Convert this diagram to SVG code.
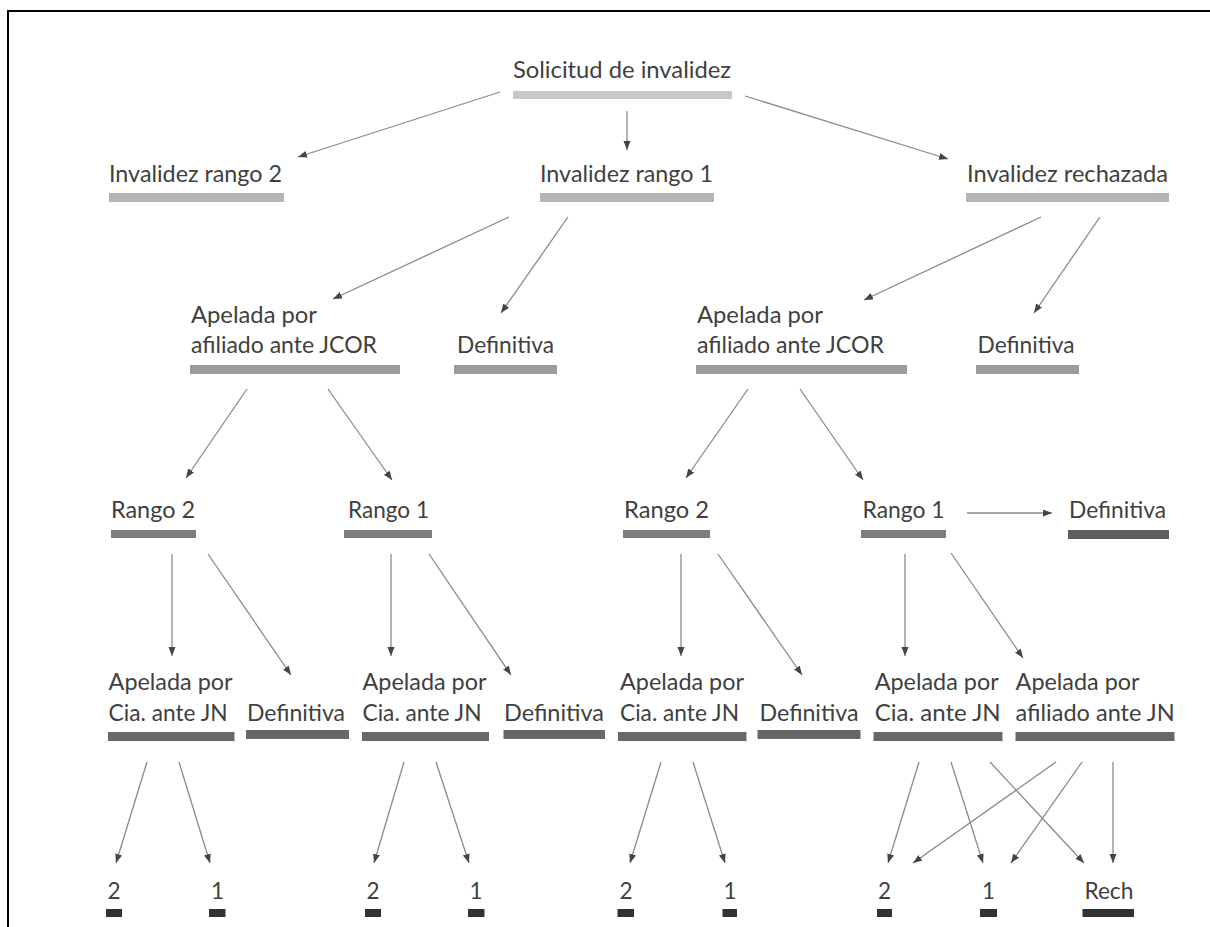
<svg xmlns="http://www.w3.org/2000/svg" width="1210" height="927" viewBox="0 0 1210 927">
<style>
.t{font-family:Lato,"Liberation Sans",sans-serif;font-size:22.5px;fill:#404040}
.c{text-anchor:middle}
.b0{fill:#c8c8c8}.b1{fill:#b4b4b4}.b2{fill:#9b9b9b}.b3{fill:#7e7e7e}.b3d{fill:#5e5e5e}.b4{fill:#676767}.b5{fill:#333333}
.e line{stroke:#8a8a8a;stroke-width:1.3;marker-end:url(#ah)}
</style>
<defs>
<marker id="ah" markerUnits="userSpaceOnUse" markerWidth="10" markerHeight="8" refX="9" refY="3.5" orient="auto">
<path d="M0,0 L9,3.5 L0,7 z" fill="#444"/>
</marker>
</defs>
<rect width="1210" height="927" fill="#fff"/>
<path d="M8,927 V11 H1210" fill="none" stroke="#000" stroke-width="2"/>

<g id="n_solicitud"><text class="t" x="513" y="78" textLength="218" lengthAdjust="spacingAndGlyphs">Solicitud de invalidez</text><rect class="b0" x="513" y="91" width="219" height="8"/></g>

<g id="n_ir2"><text class="t" x="109" y="182" textLength="173" lengthAdjust="spacingAndGlyphs">Invalidez rango 2</text><rect class="b1" x="109" y="193" width="175" height="9"/></g>
<g id="n_ir1"><text class="t" x="540" y="182" textLength="173" lengthAdjust="spacingAndGlyphs">Invalidez rango 1</text><rect class="b1" x="540" y="193" width="174" height="9"/></g>
<g id="n_irech"><text class="t" x="967" y="182" textLength="201" lengthAdjust="spacingAndGlyphs">Invalidez rechazada</text><rect class="b1" x="966" y="193" width="203" height="9"/></g>

<g id="n_apL"><text class="t" x="191" y="323" textLength="126" lengthAdjust="spacingAndGlyphs">Apelada por</text><text class="t" x="191" y="353" textLength="186" lengthAdjust="spacingAndGlyphs">afiliado ante JCOR</text><rect class="b2" x="190" y="365" width="210" height="9"/></g>
<g id="n_defL"><text class="t" x="457" y="353" textLength="97" lengthAdjust="spacingAndGlyphs">Definitiva</text><rect class="b2" x="454" y="365" width="103" height="9"/></g>
<g id="n_apR"><text class="t" x="697" y="323" textLength="126" lengthAdjust="spacingAndGlyphs">Apelada por</text><text class="t" x="697" y="353" textLength="187" lengthAdjust="spacingAndGlyphs">afiliado ante JCOR</text><rect class="b2" x="696" y="365" width="211" height="9"/></g>
<g id="n_defR"><text class="t" x="977.5" y="353" textLength="97" lengthAdjust="spacingAndGlyphs">Definitiva</text><rect class="b2" x="976" y="365" width="103" height="9"/></g>

<g id="n_r2a"><text class="t" x="111" y="518" textLength="84" lengthAdjust="spacingAndGlyphs">Rango 2</text><rect class="b3" x="111" y="530" width="85" height="8"/></g>
<g id="n_r1a"><text class="t" x="348" y="518" textLength="81" lengthAdjust="spacingAndGlyphs">Rango 1</text><rect class="b3" x="344" y="530" width="88" height="8"/></g>
<g id="n_r2b"><text class="t" x="624" y="518" textLength="85" lengthAdjust="spacingAndGlyphs">Rango 2</text><rect class="b3" x="623" y="530" width="87" height="8"/></g>
<g id="n_r1b"><text class="t" x="862.5" y="518" textLength="82" lengthAdjust="spacingAndGlyphs">Rango 1</text><rect class="b3" x="861" y="530" width="85" height="8"/></g>
<g id="n_defR3"><text class="t" x="1069" y="518" textLength="97" lengthAdjust="spacingAndGlyphs">Definitiva</text><rect class="b3d" x="1068" y="530" width="101" height="9"/></g>

<g id="n_cia1"><text class="t" x="108.6" y="690" textLength="124" lengthAdjust="spacingAndGlyphs">Apelada por</text><text class="t" x="108.6" y="721" textLength="119" lengthAdjust="spacingAndGlyphs">Cia. ante JN</text><rect class="b4" x="108" y="732" width="126.5" height="9"/></g>
<g id="n_def1"><text class="t" x="247" y="721" textLength="98" lengthAdjust="spacingAndGlyphs">Definitiva</text><rect class="b4" x="246" y="730" width="103" height="9"/></g>
<g id="n_cia2"><text class="t" x="362.5" y="690" textLength="124" lengthAdjust="spacingAndGlyphs">Apelada por</text><text class="t" x="362.5" y="721" textLength="119" lengthAdjust="spacingAndGlyphs">Cia. ante JN</text><rect class="b4" x="362" y="732" width="127" height="9"/></g>
<g id="n_def2"><text class="t" x="504" y="721" textLength="100" lengthAdjust="spacingAndGlyphs">Definitiva</text><rect class="b4" x="503.5" y="730" width="101.5" height="9"/></g>
<g id="n_cia3"><text class="t" x="620" y="690" textLength="124" lengthAdjust="spacingAndGlyphs">Apelada por</text><text class="t" x="620" y="721" textLength="119" lengthAdjust="spacingAndGlyphs">Cia. ante JN</text><rect class="b4" x="618" y="732" width="128.5" height="9"/></g>
<g id="n_def3"><text class="t" x="759.5" y="721" textLength="99" lengthAdjust="spacingAndGlyphs">Definitiva</text><rect class="b4" x="757.5" y="730" width="103" height="9"/></g>
<g id="n_cia4"><text class="t" x="874.7" y="690" textLength="124" lengthAdjust="spacingAndGlyphs">Apelada por</text><text class="t" x="874.7" y="721" textLength="126" lengthAdjust="spacingAndGlyphs">Cia. ante JN</text><rect class="b4" x="873.5" y="732" width="129" height="9"/></g>
<g id="n_afi4"><text class="t" x="1015.6" y="690" textLength="124" lengthAdjust="spacingAndGlyphs">Apelada por</text><text class="t" x="1015.6" y="721" textLength="159" lengthAdjust="spacingAndGlyphs">afiliado ante JN</text><rect class="b4" x="1015.5" y="732" width="159" height="9"/></g>

<g id="n_o1"><text class="t c" x="114" y="899">2</text><rect class="b5" x="106" y="909" width="16" height="8"/></g>
<g id="n_o2"><text class="t c" x="217.5" y="899">1</text><rect class="b5" x="209" y="909" width="16.5" height="8"/></g>
<g id="n_o3"><text class="t c" x="373" y="899">2</text><rect class="b5" x="365" y="909" width="16" height="8"/></g>
<g id="n_o4"><text class="t c" x="476" y="899">1</text><rect class="b5" x="468" y="909" width="16.5" height="8"/></g>
<g id="n_o5"><text class="t c" x="626" y="899">2</text><rect class="b5" x="617.5" y="909" width="16.5" height="8"/></g>
<g id="n_o6"><text class="t c" x="730" y="899">1</text><rect class="b5" x="722.5" y="909" width="14.5" height="8"/></g>
<g id="n_o7"><text class="t c" x="884.5" y="899">2</text><rect class="b5" x="877" y="909" width="15" height="8"/></g>
<g id="n_o8"><text class="t c" x="988.5" y="899">1</text><rect class="b5" x="980" y="909" width="17" height="8"/></g>
<g id="n_o9"><text class="t" x="1084.4" y="899" textLength="49" lengthAdjust="spacingAndGlyphs">Rech</text><rect class="b5" x="1082.5" y="909" width="51.5" height="8"/></g>

<g id="connectors" class="e">
<line x1="500" y1="92" x2="298" y2="157"/>
<line x1="627" y1="111" x2="627" y2="150"/>
<line x1="745" y1="96" x2="948" y2="159"/>
<line x1="509" y1="217" x2="333" y2="299"/>
<line x1="568" y1="217" x2="501" y2="313"/>
<line x1="1041" y1="217" x2="864" y2="300"/>
<line x1="1100" y1="217" x2="1034" y2="313"/>
<line x1="247" y1="389" x2="186" y2="478"/>
<line x1="328" y1="389" x2="392" y2="480"/>
<line x1="748" y1="389" x2="686" y2="478"/>
<line x1="800" y1="389" x2="863" y2="480"/>
<line x1="967" y1="513" x2="1052" y2="513"/>
<line x1="172" y1="554" x2="172" y2="656"/>
<line x1="208" y1="554" x2="291" y2="675"/>
<line x1="391" y1="554" x2="391" y2="656"/>
<line x1="429" y1="554" x2="511" y2="675"/>
<line x1="681" y1="554" x2="681" y2="656"/>
<line x1="718" y1="554" x2="802" y2="675"/>
<line x1="905" y1="554" x2="905" y2="656"/>
<line x1="951" y1="553" x2="1023" y2="658"/>
<line x1="147" y1="762" x2="116" y2="863"/>
<line x1="179" y1="762" x2="210" y2="863"/>
<line x1="404" y1="762" x2="374" y2="863"/>
<line x1="436" y1="762" x2="469" y2="863"/>
<line x1="661" y1="762" x2="630" y2="863"/>
<line x1="693" y1="762" x2="725" y2="863"/>
<line x1="919" y1="762" x2="888" y2="863"/>
<line x1="951" y1="762" x2="983" y2="863"/>
<line x1="990" y1="762" x2="1084" y2="863"/>
<line x1="1056" y1="762" x2="913" y2="863"/>
<line x1="1082" y1="762" x2="1011" y2="863"/>
<line x1="1113" y1="762" x2="1113" y2="863"/>
</g>
</svg>
